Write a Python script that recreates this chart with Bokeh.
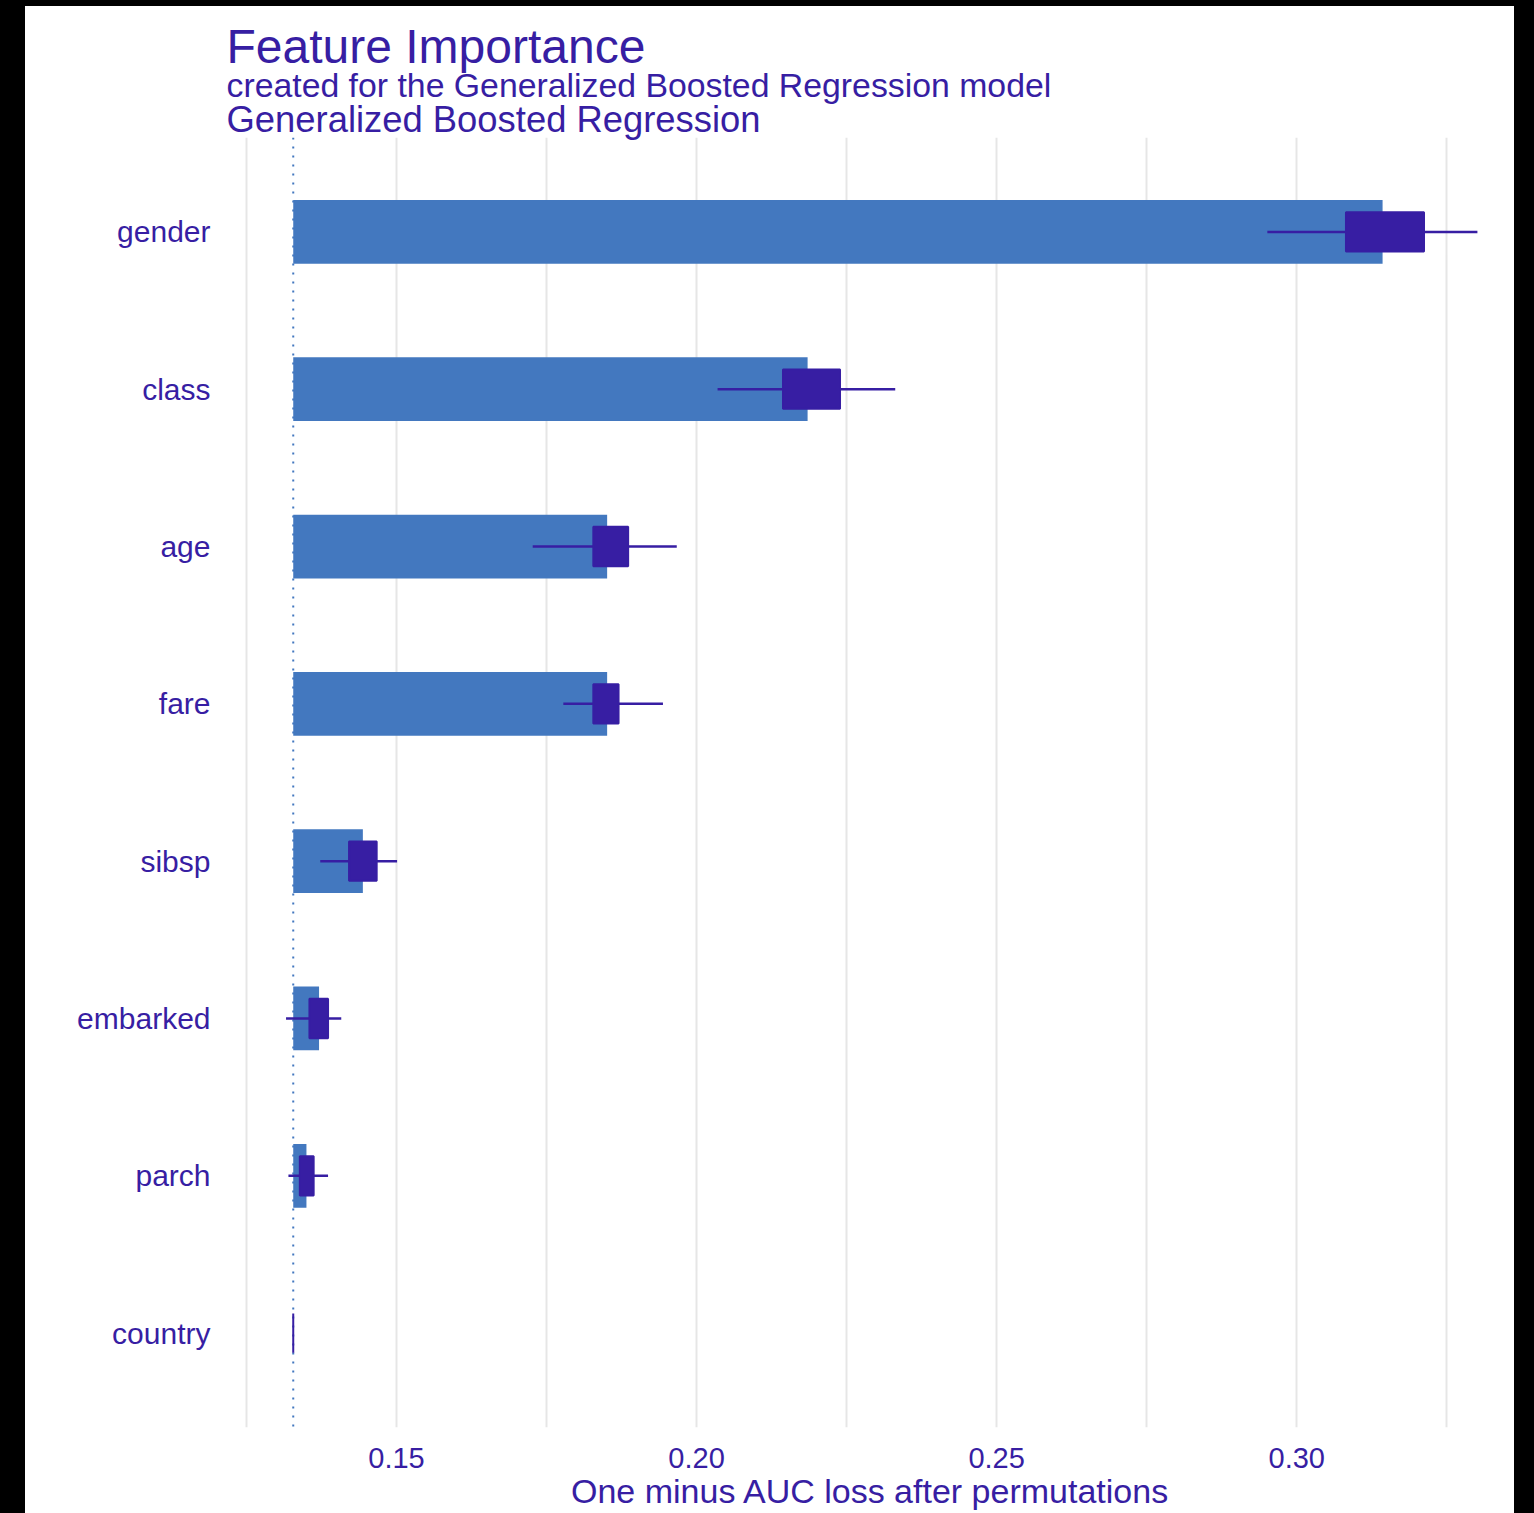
from bokeh.plotting import figure
from bokeh.models import FactorRange, Range1d, FixedTicker, Span, Title, Spacer
from bokeh.layouts import row, column
from bokeh.embed import file_html
from bokeh.resources import INLINE

# ---- data ----
features = ["gender", "class", "age", "fare", "sibsp", "embarked", "parch", "country"]
baseline = 0.1328
mean_loss = [0.3143, 0.2185, 0.1851, 0.1851, 0.1444, 0.1371, 0.1350, 0.1328]
q1 = [0.3082, 0.2144, 0.1828, 0.1828, 0.1421, 0.1355, 0.1339, 0.1328]
q3 = [0.3212, 0.2239, 0.1886, 0.1870, 0.1467, 0.1386, 0.1362, 0.1328]
w_min = [0.2951, 0.2035, 0.1727, 0.1778, 0.1373, 0.1316, 0.1320, 0.1328]
w_max = [0.3301, 0.2331, 0.1967, 0.1944, 0.1501, 0.1408, 0.1386, 0.1328]
x_ticks = [0.15, 0.20, 0.25, 0.30]
x_tick_labels = ["0.15", "0.20", "0.25", "0.30"]
x_minor = [0.125, 0.175, 0.225, 0.275, 0.325]

title_main = "Feature Importance"
title_sub1 = "created for the Generalized Boosted Regression model"
title_sub2 = "Generalized Boosted Regression"
x_label = "One minus AUC loss after permutations"

TXT = "#371ea3"
BAR = "#4378bf"
GRID = "#e6e6e6"
FONT = "Liberation Sans"

y_range = FactorRange(factors=list(reversed(features)), range_padding=0.1,
                      range_padding_units="absolute")
p = figure(width=1489, height=1507, y_range=y_range,
           x_range=Range1d(0.12168, 0.33628),
           output_backend="svg", toolbar_location=None,
           min_border_left=201, min_border_right=0, min_border_top=131,
           min_border_bottom=86)
p.background_fill_color = "white"
p.border_fill_color = "white"
p.outline_line_color = None

# titles (first added sits nearest the plot)
for txt, size, so in [(title_sub2, "36.4px", -5), (title_sub1, "33.8px", -8),
                      (title_main, "48px", -10)]:
    p.add_layout(Title(text=txt, align="left", text_font_size=size, text_color=TXT,
                       text_font=FONT, text_font_style="normal", standoff=so), "above")

# baseline dotted line
p.add_layout(Span(location=baseline, dimension="height", line_color=BAR,
                  line_dash="2 7", line_width=2, level="underlay"))

# bars
p.hbar(y=features, left=baseline, right=mean_loss, height=0.405,
       fill_color=BAR, line_color=None)
# whiskers
p.segment(x0=w_min, y0=features, x1=w_max, y1=features, line_color=TXT, line_width=2.5)
# boxes
p.hbar(y=features, left=q1, right=q3, height=0.25, fill_color=TXT,
       line_color=TXT, line_width=2)

# axes
xa = p.xaxis[0]
xa.ticker = FixedTicker(ticks=x_ticks, minor_ticks=x_minor)
xa.major_label_overrides = {t: l for t, l in zip(x_ticks, x_tick_labels)}
xa.axis_label = x_label
xa.axis_label_text_font = FONT
xa.axis_label_text_font_size = "34px"
xa.axis_label_text_font_style = "normal"
xa.axis_label_text_color = TXT
xa.axis_label_standoff = 1
xa.major_label_text_font = FONT
xa.major_label_text_font_size = "29px"
xa.major_label_text_color = TXT
xa.major_label_standoff = 14

ya = p.yaxis[0]
ya.major_label_text_font = FONT
ya.major_label_text_font_size = "30px"
ya.major_label_text_color = TXT
ya.major_label_standoff = 10

for ax in (xa, ya):
    ax.axis_line_color = None
    ax.major_tick_line_color = None
    ax.minor_tick_line_color = None

p.xgrid.grid_line_color = GRID
p.xgrid.grid_line_width = 2
p.xgrid.minor_grid_line_color = GRID
p.xgrid.minor_grid_line_width = 2
p.ygrid.grid_line_color = None

blk = {"background-color": "black"}
layout = column(
    Spacer(width=1534, height=6, styles=blk),
    row(Spacer(width=25, height=1507, styles=blk), p,
        Spacer(width=20, height=1507, styles=blk)),
)

open("out.html", "w").write(file_html(layout, INLINE))
